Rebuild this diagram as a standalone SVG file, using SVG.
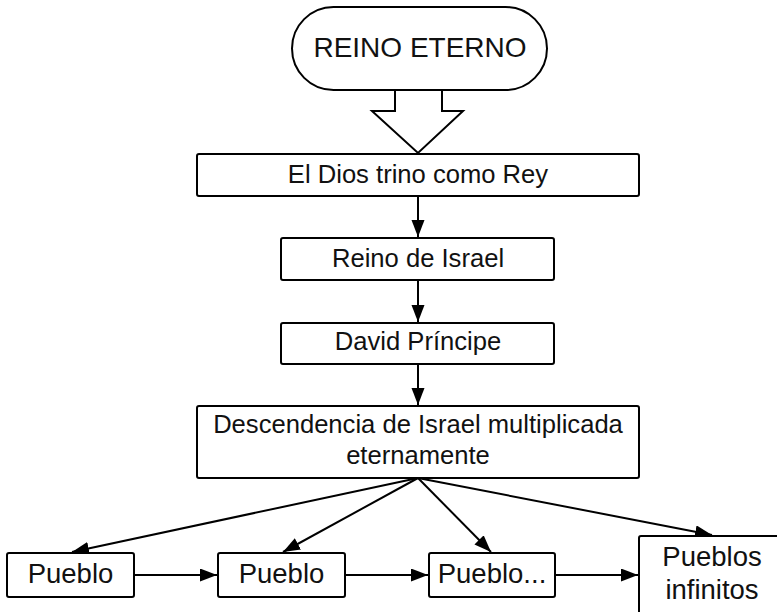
<svg xmlns="http://www.w3.org/2000/svg" width="777" height="612" viewBox="0 0 777 612">
<defs>
<style>
.box{fill:#fff;stroke:#000;stroke-width:2}
.t{font-family:"Liberation Sans",Arial,sans-serif;fill:#111;text-anchor:middle}
.m{font-size:25.6px}
.b{font-size:27.5px}
.c{fill:none;stroke:#000;stroke-width:2}
</style>
<marker id="ah" markerUnits="userSpaceOnUse" markerWidth="18" markerHeight="14" refX="17" refY="6.5" orient="auto">
<path d="M0,0 L17,6.5 L0,13 z" fill="#000"/>
</marker>
</defs>
<rect width="777" height="612" fill="#fff"/>
<g id="connectors">
<polygon class="box" points="395,90 395,111 372,111 418,153 463,111 442,111 442,90"/>
<line class="c" x1="418" y1="196" x2="418" y2="237" marker-end="url(#ah)"/>
<line class="c" x1="418" y1="280" x2="418" y2="322" marker-end="url(#ah)"/>
<line class="c" x1="418" y1="364" x2="418" y2="405" marker-end="url(#ah)"/>
<line class="c" x1="418" y1="478" x2="72" y2="552" marker-end="url(#ah)"/>
<line class="c" x1="418" y1="478" x2="283" y2="552" marker-end="url(#ah)"/>
<line class="c" x1="418" y1="478" x2="491" y2="552" marker-end="url(#ah)"/>
<line class="c" x1="418" y1="478" x2="712" y2="535" marker-end="url(#ah)"/>
<line class="c" x1="134" y1="575" x2="217" y2="575" marker-end="url(#ah)"/>
<line class="c" x1="345" y1="575" x2="428" y2="575" marker-end="url(#ah)"/>
<line class="c" x1="555" y1="575" x2="638" y2="575" marker-end="url(#ah)"/>
</g>
<g id="reino-eterno">
<rect class="box" x="292" y="7" width="255" height="83" rx="41.5" ry="41.5"/>
<text class="t" x="420" y="57" font-size="28">REINO ETERNO</text>
</g>
<g id="dios-trino">
<rect class="box" x="197" y="154" width="442" height="42" rx="2"/>
<text class="t m" x="418" y="183">El Dios trino como Rey</text>
</g>
<g id="reino-israel">
<rect class="box" x="281" y="238" width="273" height="42" rx="2"/>
<text class="t m" x="418" y="267">Reino de Israel</text>
</g>
<g id="david">
<rect class="box" x="281" y="323" width="273" height="41" rx="2"/>
<text class="t m" x="418" y="350">David Príncipe</text>
</g>
<g id="descendencia">
<rect class="box" x="197" y="406" width="442" height="72" rx="2"/>
<text class="t m" x="418" y="433">Descendencia de Israel multiplicada</text>
<text class="t m" x="418" y="464">eternamente</text>
</g>
<g id="pueblo1">
<rect class="box" x="7" y="553" width="127" height="44" rx="2"/>
<text class="t b" x="70.5" y="583">Pueblo</text>
</g>
<g id="pueblo2">
<rect class="box" x="218" y="553" width="127" height="44" rx="2"/>
<text class="t b" x="281.5" y="583">Pueblo</text>
</g>
<g id="pueblo3">
<rect class="box" x="429" y="553" width="126" height="44" rx="2"/>
<text class="t b" x="492" y="583">Pueblo...</text>
</g>
<g id="pueblos-infinitos">
<rect class="box" x="639" y="536" width="148" height="90" rx="2"/>
<text class="t b" x="712" y="566">Pueblos</text>
<text class="t b" x="712" y="599">infinitos</text>
</g>
</svg>
